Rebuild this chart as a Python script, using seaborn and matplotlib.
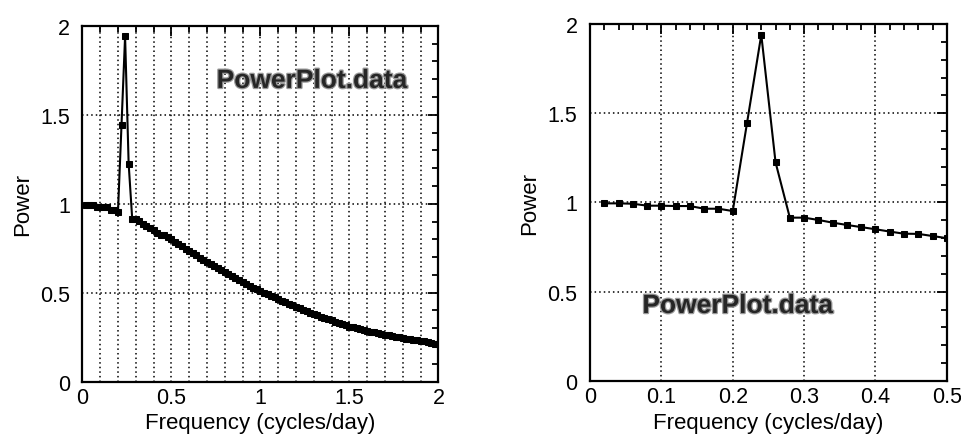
import matplotlib
matplotlib.use("Agg")
import matplotlib.pyplot as plt
import matplotlib.patheffects as pe
from matplotlib.ticker import MultipleLocator, FuncFormatter
import pandas as pd
import seaborn as sns

# readings (0.02 cycles/day spacing)
freq_low = [0.02, 0.04, 0.06, 0.08, 0.10, 0.12, 0.14, 0.16, 0.18, 0.20,
            0.22, 0.24, 0.26, 0.28, 0.30, 0.32, 0.34, 0.36, 0.38, 0.40,
            0.42, 0.44, 0.46, 0.48, 0.50]
power_low = [0.995, 0.995, 0.993, 0.982, 0.982, 0.980, 0.980, 0.965, 0.965, 0.952,
             1.445, 1.940, 1.225, 0.915, 0.915, 0.902, 0.887, 0.874, 0.862, 0.850,
             0.837, 0.825, 0.824, 0.812, 0.800]

freq_high = [0.52, 0.54, 0.56, 0.58, 0.60, 0.62, 0.64, 0.66, 0.68, 0.70,
             0.72, 0.74, 0.76, 0.78, 0.80, 0.82, 0.84, 0.86, 0.88, 0.90,
             0.92, 0.94, 0.96, 0.98, 1.00, 1.02, 1.04, 1.06, 1.08, 1.10,
             1.12, 1.14, 1.16, 1.18, 1.20, 1.22, 1.24, 1.26, 1.28, 1.30,
             1.32, 1.34, 1.36, 1.38, 1.40, 1.42, 1.44, 1.46, 1.48, 1.50,
             1.52, 1.54, 1.56, 1.58, 1.60, 1.62, 1.64, 1.66, 1.68, 1.70,
             1.72, 1.74, 1.76, 1.78, 1.80, 1.82, 1.84, 1.86, 1.88, 1.90,
             1.92, 1.94, 1.96, 1.98, 2.00]
power_high = [0.787, 0.774, 0.762, 0.748, 0.736, 0.722, 0.710, 0.696, 0.684, 0.670,
              0.659, 0.648, 0.636, 0.626, 0.615, 0.604, 0.592, 0.582, 0.570, 0.560,
              0.550, 0.540, 0.529, 0.520, 0.510, 0.501, 0.492, 0.482, 0.474, 0.465,
              0.456, 0.447, 0.438, 0.429, 0.420, 0.412, 0.404, 0.396, 0.388, 0.380,
              0.373, 0.366, 0.359, 0.352, 0.345, 0.338, 0.331, 0.324, 0.317, 0.310,
              0.305, 0.300, 0.295, 0.290, 0.285, 0.281, 0.277, 0.273, 0.269, 0.265,
              0.261, 0.257, 0.253, 0.249, 0.245, 0.242, 0.239, 0.236, 0.233, 0.230,
              0.226, 0.222, 0.218, 0.214, 0.210]

x_label = "Frequency (cycles/day)"
y_label = "Power"
tag = "PowerPlot.data"

sns.set_style("white")
plt.rcParams["font.family"] = ["Liberation Sans", "DejaVu Sans"]

full = pd.DataFrame({"freq": freq_low + freq_high, "power": power_low + power_high})
zoom = pd.DataFrame({"freq": freq_low, "power": power_low})

fig = plt.figure(figsize=(9.61, 4.39), dpi=100)
ax1 = fig.add_axes([0.0857, 0.1283, 0.3705, 0.8108])
ax2 = fig.add_axes([0.6140, 0.1300, 0.3712, 0.8130])

fmt = FuncFormatter(lambda v, p: f"{v:g}")


def style_axes(ax, xmax, xmajor, xminor):
    ax.set_xlim(0, xmax)
    ax.set_ylim(0, 2)
    ax.xaxis.set_major_locator(MultipleLocator(xmajor))
    ax.xaxis.set_minor_locator(MultipleLocator(xminor))
    ax.yaxis.set_major_locator(MultipleLocator(0.5))
    ax.yaxis.set_minor_locator(MultipleLocator(0.1))
    ax.xaxis.set_major_formatter(fmt)
    ax.yaxis.set_major_formatter(fmt)
    ax.tick_params(which="both", direction="in", top=True, right=True,
                   color="black", labelcolor="black", width=1.3)
    ax.tick_params(which="major", length=7)
    ax.tick_params(which="minor", length=4)
    ax.tick_params(axis="y", which="major", pad=9, labelsize=15.5)
    ax.tick_params(axis="x", which="major", pad=4, labelsize=15.5)
    for s in ax.spines.values():
        s.set_color("black")
        s.set_linewidth(1.6)
    ax.set_xlabel(x_label, fontsize=16, labelpad=3, color="black")
    ax.set_ylabel(y_label, fontsize=16, labelpad=5, color="black")
    ax.set_axisbelow(True)


line_kw = dict(color="black", marker="s", markersize=5, linewidth=1.5,
               markeredgecolor="black", estimator=None, sort=False)

sns.lineplot(data=full, x="freq", y="power", ax=ax1, **line_kw)
style_axes(ax1, 2, 0.5, 0.1)
ax1.grid(True, which="both", axis="x", color="black", linestyle=(0, (1, 2)), linewidth=1.1)
ax1.grid(True, which="major", axis="y", color="black", linestyle=(0, (1, 2)), linewidth=1.1)

sns.lineplot(data=zoom, x="freq", y="power", ax=ax2, **line_kw)
style_axes(ax2, 0.5, 0.1, 0.02)
ax2.grid(True, which="major", axis="both", color="black", linestyle=(0, (1, 2)), linewidth=1.1)

shadow = [pe.withStroke(linewidth=1.8, foreground="#9a9a9a")]
ax1.text(1.29, 1.69, tag, fontsize=19, fontweight="bold", color="#262626",
         ha="center", va="center", path_effects=shadow)
ax2.text(0.207, 0.42, tag, fontsize=19, fontweight="bold", color="#262626",
         ha="center", va="center", path_effects=shadow)

fig.savefig("out.png", dpi=100)
